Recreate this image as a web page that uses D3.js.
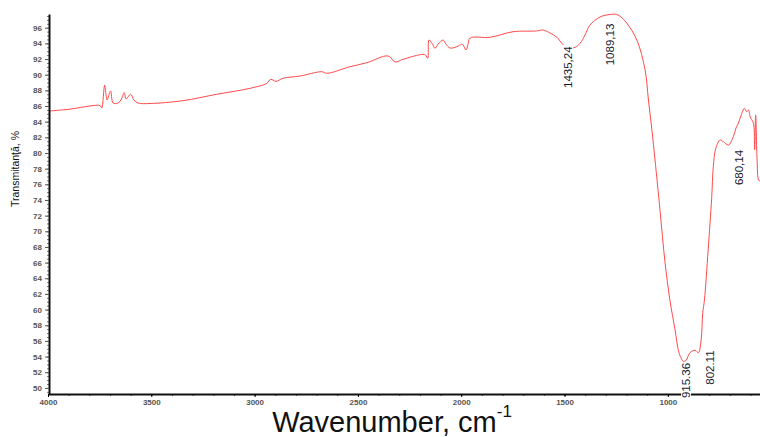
<!DOCTYPE html>
<html>
<head>
<meta charset="utf-8">
<script src="https://cdn.jsdelivr.net/npm/d3@7"></script>
<style>
	body { margin: 0; background: #fff; }
	svg { display: block; font-family: 'Liberation Sans', Arial, sans-serif; }
</style>
</head>
<body>
<svg id="chart" width="760" height="437"></svg>
<script>
'use strict';

// spectrum (wavenumber, transmittance %)
const wavenumber = [
	3995, 3894, 3797, 3748, 3740, 3726, 3719, 3714, 3697, 3685, 3661, 3647, 3631, 3622, 3600, 3584, 3564,
	3506, 3347, 3183, 3022, 2941, 2922, 2896, 2863, 2780, 2675, 2650, 2538, 2457, 2354, 2320, 2282,
	2185, 2173, 2162, 2156, 2141, 2127, 2112, 2088, 2074, 2054, 2022, 1998, 1991, 1977, 1967, 1957,
	1861, 1749, 1635, 1604, 1570, 1538, 1506, 1482, 1449, 1425, 1401, 1377, 1328, 1280, 1247, 1227,
	1199, 1150, 1110, 1094, 1077, 1062, 1038, 1014, 990, 965, 949, 936, 925, 912, 893, 868, 852, 839,
	831, 823, 805, 788, 780, 768, 747, 731, 707, 683, 670, 659, 642, 630, 618, 609, 602, 586, 580,
	575, 568, 561, 554
];
const transmittance = [
	85.36, 85.6, 86.0, 86.06, 85.74, 88.68, 87.4, 86.77, 87.92, 86.38, 86.38, 86.77, 87.7, 86.9, 87.5, 86.77, 86.38,
	86.32, 86.68, 87.5, 88.26, 88.9, 89.4, 89.15, 89.54, 89.83, 90.38, 90.18, 91.02, 91.53, 92.39, 91.62, 91.96,
	92.6, 92.5, 92.1, 94.43, 94.0, 93.37, 93.9, 94.43, 93.9, 93.4, 93.57, 93.88, 93.8, 93.15, 93.9, 94.68,
	94.77, 95.49, 95.58, 95.7, 95.32, 94.8, 93.8, 93.4, 93.5, 94.0, 95.07, 96.34, 97.37, 97.69, 97.69, 97.37,
	96.6, 94.43, 90.6, 86.77, 82.9, 79.1, 72.7, 66.1, 61.2, 57.4, 54.8, 53.8, 53.4, 53.5, 54.5, 54.8, 54.5, 56.1,
	59.6, 61.2, 67.6, 74.2, 78.25, 80.6, 81.66, 81.44, 81.0, 82.08, 83.2, 83.79, 85.07, 85.7, 85.27, 85.5, 84.63, 83.8, 80.4,
	84.85, 79.1, 76.55, 76.4
];

// peak labels: text and where the label starts (wavenumber, transmittance)
const peakLabels = ['1435,24', '1089,13', '915.36', '802.11', '680,14'];
const peakWn = [1483, 1280, 912, 796, 655];
const peakT = [88.3, 91.2, 48.7, 50.4, 75.9];

const xTickValues = [4000, 3500, 3000, 2500, 2000, 1500, 1000];
const yTickValues = d3.range(50, 97, 2);

const svg = d3.select('#chart');
const x = d3.scaleLinear().domain([4000, 554]).range([48, 760]);
const y = d3.scaleLinear().domain([49.22, 97.75]).range([394, 14]);

const points = wavenumber.map((w, i) => [w, transmittance[i]]);

// curve
svg.append('path')
	.datum(points)
	.attr('fill', 'none')
	.attr('stroke', '#ff4a4a')
	.attr('stroke-width', 1)
	.attr('d', d3.line().curve(d3.curveCatmullRom.alpha(0.5)).x(d => x(d[0])).y(d => y(d[1])));

// x axis: minor then major ticks
const xMinor = svg.append('g')
	.attr('transform', 'translate(0,394)')
	.call(d3.axisBottom(x).tickValues(d3.range(4000, 554, -100)).tickSize(2).tickSizeOuter(0).tickFormat(''));
xMinor.select('.domain').remove();
xMinor.selectAll('line').attr('stroke', '#555');

const xAxis = svg.append('g')
	.attr('transform', 'translate(0,394)')
	.call(d3.axisBottom(x).tickValues(xTickValues).tickSize(3).tickSizeOuter(0).tickPadding(2).tickFormat(d3.format('d')));
xAxis.select('.domain').attr('stroke', '#111').attr('stroke-width', 2);
xAxis.selectAll('text')
	.attr('font-size', 8)
	.attr('font-weight', 'bold')
	.attr('fill', '#555');

// y axis
const yMinor = svg.append('g')
	.attr('transform', 'translate(49,0)')
	.call(d3.axisLeft(y).tickValues(d3.range(49.5, 97.7, 0.5)).tickSize(2).tickSizeOuter(0).tickFormat(''));
yMinor.select('.domain').remove();
yMinor.selectAll('line').attr('stroke', '#777');

const yAxis = svg.append('g')
	.attr('transform', 'translate(49,0)')
	.call(d3.axisLeft(y).tickValues(yTickValues).tickSize(4).tickSizeOuter(0).tickPadding(3).tickFormat(d3.format('d')));
yAxis.select('.domain').attr('stroke', '#111').attr('stroke-width', 2);
yAxis.selectAll('line').attr('stroke', '#555');
yAxis.selectAll('text')
	.attr('font-size', 8)
	.attr('font-weight', 'bold')
	.attr('fill', '#555');

// axis titles
svg.append('text')
	.attr('transform', 'translate(19,169) rotate(-90)')
	.attr('text-anchor', 'middle')
	.attr('font-size', 10.5)
	.attr('fill', '#111')
	.text('Transmitanţă, %');

const title = svg.append('text')
	.attr('x', 392)
	.attr('y', 432)
	.attr('text-anchor', 'middle')
	.attr('font-size', 29)
	.attr('fill', '#111');
title.append('tspan').text('Wavenumber, cm');
title.append('tspan').attr('font-size', 17).attr('dy', -15).text('-1');

// peak labels
const lab = svg.append('g').selectAll('g')
	.data(peakLabels)
	.join('g')
		.attr('transform', (d, i) => `translate(${x(peakWn[i])},${y(peakT[i])}) rotate(-90)`);
lab.append('text')
	.attr('font-size', 11.5)
	.attr('dominant-baseline', 'central')
	.attr('fill', '#1a1a2e')
	.text(d => d)
	.each(function(){
		const b = this.getBBox();
		d3.select(this.parentNode).insert('rect', 'text')
			.attr('x', b.x - 1).attr('y', b.y + 1)
			.attr('width', b.width + 2).attr('height', b.height - 2)
			.attr('fill', '#fff');
	});
</script>
</body>
</html>
